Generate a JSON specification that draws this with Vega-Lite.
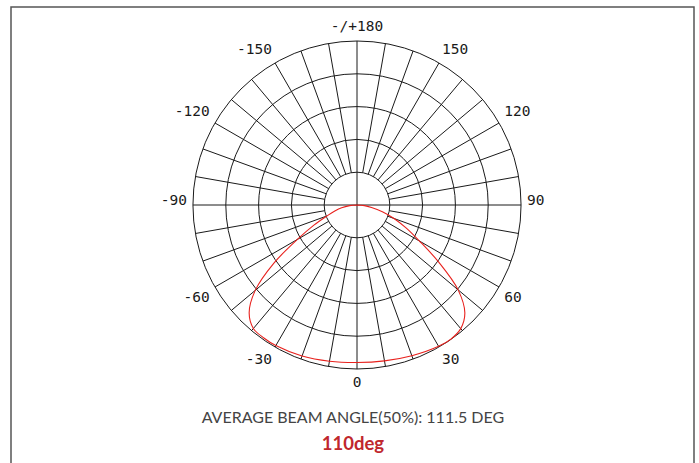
{
  "$schema": "https://vega.github.io/schema/vega-lite/v6.json",
  "width": 683,
  "height": 470,
  "autosize": {"type": "none"},
  "padding": {"left": 11, "top": 7, "right": 5, "bottom": 0},
  "background": "white",
  "config": {
    "view": {"stroke": "#555", "strokeWidth": 1.5},
    "font": "DejaVu Sans Mono"
  },
  "datasets": {
    "rings": [{"r": 20}, {"r": 40}, {"r": 60}, {"r": 80}, {"r": 100}],
    "spokes": [
      {"a": 0, "r1": -100, "r2": 100},
      {"a": 90, "r1": -100, "r2": 100},
      {"a": 10, "r1": 20, "r2": 100}, {"a": 20, "r1": 20, "r2": 100}, {"a": 30, "r1": 20, "r2": 100},
      {"a": 40, "r1": 20, "r2": 100}, {"a": 50, "r1": 20, "r2": 100}, {"a": 60, "r1": 20, "r2": 100},
      {"a": 70, "r1": 20, "r2": 100}, {"a": 80, "r1": 20, "r2": 100},
      {"a": 100, "r1": 20, "r2": 100}, {"a": 110, "r1": 20, "r2": 100}, {"a": 120, "r1": 20, "r2": 100},
      {"a": 130, "r1": 20, "r2": 100}, {"a": 140, "r1": 20, "r2": 100}, {"a": 150, "r1": 20, "r2": 100},
      {"a": 160, "r1": 20, "r2": 100}, {"a": 170, "r1": 20, "r2": 100},
      {"a": -10, "r1": 20, "r2": 100}, {"a": -20, "r1": 20, "r2": 100}, {"a": -30, "r1": 20, "r2": 100},
      {"a": -40, "r1": 20, "r2": 100}, {"a": -50, "r1": 20, "r2": 100}, {"a": -60, "r1": 20, "r2": 100},
      {"a": -70, "r1": 20, "r2": 100}, {"a": -80, "r1": 20, "r2": 100},
      {"a": -100, "r1": 20, "r2": 100}, {"a": -110, "r1": 20, "r2": 100}, {"a": -120, "r1": 20, "r2": 100},
      {"a": -130, "r1": 20, "r2": 100}, {"a": -140, "r1": 20, "r2": 100}, {"a": -150, "r1": 20, "r2": 100},
      {"a": -160, "r1": 20, "r2": 100}, {"a": -170, "r1": 20, "r2": 100}
    ],
    "curve": [
      {"a": -90, "i": 0}, {"a": -85, "i": 4.5}, {"a": -80, "i": 9.5}, {"a": -75, "i": 14},
      {"a": -70, "i": 19.5}, {"a": -65, "i": 29}, {"a": -60, "i": 42}, {"a": -55, "i": 62},
      {"a": -50, "i": 81}, {"a": -45, "i": 93}, {"a": -40, "i": 98.3}, {"a": -35, "i": 99},
      {"a": -30, "i": 99}, {"a": -20, "i": 98}, {"a": -10, "i": 96.7}, {"a": 0, "i": 96},
      {"a": 10, "i": 96.5}, {"a": 20, "i": 97.8}, {"a": 30, "i": 99.5}, {"a": 35, "i": 99.8},
      {"a": 40, "i": 98.4}, {"a": 45, "i": 93}, {"a": 50, "i": 80.5}, {"a": 55, "i": 61},
      {"a": 60, "i": 44}, {"a": 65, "i": 33}, {"a": 70, "i": 24}, {"a": 75, "i": 16},
      {"a": 80, "i": 9}, {"a": 85, "i": 4.5}, {"a": 90, "i": 0}
    ],
    "labels": [
      {"a": 0, "label": "0"}, {"a": 30, "label": "30"}, {"a": 60, "label": "60"},
      {"a": 90, "label": "90"}, {"a": 120, "label": "120"}, {"a": 150, "label": "150"},
      {"a": 180, "label": "-/+180"}, {"a": -30, "label": "-30"}, {"a": -60, "label": "-60"},
      {"a": -90, "label": "-90"}, {"a": -120, "label": "-120"}, {"a": -150, "label": "-150"}
    ]
  },
  "layer": [
    {
      "data": {"name": "rings"},
      "mark": {"type": "arc", "filled": false, "stroke": "#1a1a1a", "strokeWidth": 1},
      "encoding": {
        "x": {"datum": 0, "type": "quantitative", "scale": {"domain": [-210.98, 205.49], "nice": false, "zero": false}, "axis": null},
        "y": {"datum": 0, "type": "quantitative", "scale": {"domain": [-165.85, 120.73], "nice": false, "zero": false}, "axis": null},
        "radius": {"field": "r", "type": "quantitative", "stack": null, "scale": {"type": "linear", "domain": [0, 100], "range": [0, 164], "zero": true, "nice": false}, "legend": null}
      }
    },
    {
      "data": {"name": "spokes"},
      "transform": [
        {"calculate": "datum.r1 * sin(datum.a * PI / 180)", "as": "x1"},
        {"calculate": "-datum.r1 * cos(datum.a * PI / 180)", "as": "y1"},
        {"calculate": "datum.r2 * sin(datum.a * PI / 180)", "as": "x2"},
        {"calculate": "-datum.r2 * cos(datum.a * PI / 180)", "as": "y2"}
      ],
      "mark": {"type": "rule", "stroke": "#1a1a1a", "strokeWidth": 1},
      "encoding": {
        "x": {"field": "x1", "type": "quantitative", "scale": {"domain": [-210.98, 205.49], "nice": false, "zero": false}, "axis": null},
        "y": {"field": "y1", "type": "quantitative", "scale": {"domain": [-165.85, 120.73], "nice": false, "zero": false}, "axis": null},
        "x2": {"field": "x2"},
        "y2": {"field": "y2"}
      }
    },
    {
      "data": {"name": "curve"},
      "transform": [
        {"calculate": "datum.i * sin(datum.a * PI / 180)", "as": "cx"},
        {"calculate": "-datum.i * cos(datum.a * PI / 180)", "as": "cy"}
      ],
      "mark": {"type": "line", "stroke": "#e8211d", "strokeWidth": 1.1, "interpolate": "catmull-rom"},
      "encoding": {
        "x": {"field": "cx", "type": "quantitative", "scale": {"domain": [-210.98, 205.49], "nice": false, "zero": false}, "axis": null},
        "y": {"field": "cy", "type": "quantitative", "scale": {"domain": [-165.85, 120.73], "nice": false, "zero": false}, "axis": null},
        "order": {"field": "a", "type": "quantitative"}
      }
    },
    {
      "data": {"name": "labels"},
      "transform": [
        {"filter": "datum.a > 0 && datum.a < 180"},
        {"calculate": "103.7 * sin(datum.a * PI / 180)", "as": "lx"},
        {"calculate": "-103.7 * cos(datum.a * PI / 180) + (cos(datum.a * PI / 180) > 0.01 ? -4.6 : (cos(datum.a * PI / 180) < -0.01 ? 4.9 : 2.7))", "as": "ly"}
      ],
      "mark": {"type": "text", "font": "DejaVu Sans Mono", "fontSize": 14.5, "color": "#1a1a1a", "align": "left", "baseline": "middle"},
      "encoding": {
        "x": {"field": "lx", "type": "quantitative", "scale": {"domain": [-210.98, 205.49], "nice": false, "zero": false}, "axis": null},
        "y": {"field": "ly", "type": "quantitative", "scale": {"domain": [-165.85, 120.73], "nice": false, "zero": false}, "axis": null},
        "text": {"field": "label"}
      }
    },
    {
      "data": {"name": "labels"},
      "transform": [
        {"filter": "datum.a < 0"},
        {"calculate": "103.7 * sin(datum.a * PI / 180)", "as": "lx"},
        {"calculate": "-103.7 * cos(datum.a * PI / 180) + (cos(datum.a * PI / 180) > 0.01 ? -4.6 : (cos(datum.a * PI / 180) < -0.01 ? 4.9 : 2.7))", "as": "ly"}
      ],
      "mark": {"type": "text", "font": "DejaVu Sans Mono", "fontSize": 14.5, "color": "#1a1a1a", "align": "right", "baseline": "middle"},
      "encoding": {
        "x": {"field": "lx", "type": "quantitative", "scale": {"domain": [-210.98, 205.49], "nice": false, "zero": false}, "axis": null},
        "y": {"field": "ly", "type": "quantitative", "scale": {"domain": [-165.85, 120.73], "nice": false, "zero": false}, "axis": null},
        "text": {"field": "label"}
      }
    },
    {
      "data": {"name": "labels"},
      "transform": [
        {"filter": "datum.a == 0 || datum.a == 180"},
        {"calculate": "103.7 * sin(datum.a * PI / 180)", "as": "lx"},
        {"calculate": "-103.7 * cos(datum.a * PI / 180) + (cos(datum.a * PI / 180) > 0.01 ? -4.6 : 4.9)", "as": "ly"}
      ],
      "mark": {"type": "text", "font": "DejaVu Sans Mono", "fontSize": 14.5, "color": "#1a1a1a", "align": "center", "baseline": "middle"},
      "encoding": {
        "x": {"field": "lx", "type": "quantitative", "scale": {"domain": [-210.98, 205.49], "nice": false, "zero": false}, "axis": null},
        "y": {"field": "ly", "type": "quantitative", "scale": {"domain": [-165.85, 120.73], "nice": false, "zero": false}, "axis": null},
        "text": {"field": "label"}
      }
    },
    {
      "data": {"values": [{"caption": "AVERAGE BEAM ANGLE(50%): 111.5 DEG"}]},
      "mark": {"type": "text", "font": "Lato", "fontSize": 16, "color": "#444", "align": "center", "baseline": "alphabetic"},
      "encoding": {
        "x": {"datum": -2.5, "type": "quantitative", "scale": {"domain": [-210.98, 205.49], "nice": false, "zero": false}, "axis": null},
        "y": {"datum": -132.9, "type": "quantitative", "scale": {"domain": [-165.85, 120.73], "nice": false, "zero": false}, "axis": null},
        "text": {"field": "caption"}
      }
    },
    {
      "data": {"values": [{"caption": "110deg"}]},
      "mark": {"type": "text", "font": "Lato", "fontSize": 18.5, "fontWeight": "bold", "color": "#c0272d", "align": "center", "baseline": "alphabetic"},
      "encoding": {
        "x": {"datum": -2.5, "type": "quantitative", "scale": {"domain": [-210.98, 205.49], "nice": false, "zero": false}, "axis": null},
        "y": {"datum": -149.2, "type": "quantitative", "scale": {"domain": [-165.85, 120.73], "nice": false, "zero": false}, "axis": null},
        "text": {"field": "caption"}
      }
    }
  ]
}
